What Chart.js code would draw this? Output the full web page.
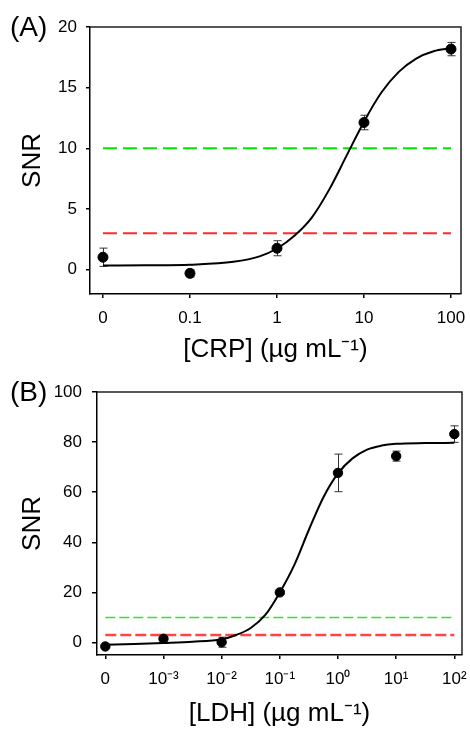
<!DOCTYPE html>
<html><head><meta charset="utf-8">
<script src="https://cdn.jsdelivr.net/npm/chart.js@4/dist/chart.umd.min.js"></script>
<style>
html,body{margin:0;padding:0;background:#fff;width:470px;height:729px;overflow:hidden;}
.wrap{position:absolute;left:0;width:470px;}
.panel{position:absolute;font-family:"Liberation Sans",Arial,sans-serif;font-size:28px;line-height:28px;color:#000;}
</style></head><body>
<div class="wrap" style="top:0;height:365px"><canvas id="cA" width="470" height="365" style="width:470px;height:365px"></canvas></div>
<div class="wrap" style="top:365px;height:364px"><canvas id="cB" width="470" height="364" style="width:470px;height:364px"></canvas></div>
<div class="panel" style="left:10px;top:13px">(A)</div>
<div class="panel" style="left:10px;top:378px">(B)</div>
<script>
// ---------- Panel A: CRP ----------
const crpLabels = ['0', '0.1', '1', '10', '100'];
const crpPos = [0, 1, 2, 3, 4];
const crpSNR = [1.03, -0.3, 1.77, 12.13, 18.18];
const crpErr = [0.75, 0.3, 0.62, 0.6, 0.55];
const crpFitPos = [0, 0.5, 1, 1.5, 1.8, 2, 2.2, 2.4, 2.6, 2.8, 3, 3.2, 3.4, 3.6, 3.8, 4];
const crpFitSNR = [0.35, 0.37, 0.42, 0.65, 1.1, 1.75, 2.8, 4.3, 6.6, 9.4, 12.2, 14.6, 16.3, 17.4, 18.0, 18.25];
const crpYTicks = [0, 5, 10, 15, 20];
const crpThresholds = [10, 3];

// ---------- Panel B: LDH ----------
const ldhLabels = ['0', '10\u207B\u00B3', '10\u207B\u00B2', '10\u207B\u00B9', '10\u2070', '10\u00B9', '10\u00B2'];
const ldhPos = [0, 1, 2, 3, 4, 5, 6];
const ldhSNR = [-1.6, 1.5, 0.1, 20.0, 67.7, 74.4, 83.2];
const ldhErr = [0.5, 0.6, 2.0, 0.6, 7.5, 2.0, 3.3];
const ldhFitPos = [0, 0.5, 1, 1.5, 2, 2.25, 2.5, 2.75, 3, 3.25, 3.5, 3.75, 4, 4.25, 4.5, 4.75, 5, 5.5, 6];
const ldhFitSNR = [-0.9, -0.6, -0.2, 0.3, 1.3, 3.0, 5.8, 11.0, 20.0, 31.0, 45.0, 58.0, 67.5, 73.5, 77.0, 78.6, 79.3, 79.6, 79.7];
const ldhYTicks = [0, 20, 40, 60, 80, 100];
const ldhThresholds = [10, 3];

const FONT = '"Liberation Sans", Arial, sans-serif';
Chart.defaults.font.family = FONT;
Chart.defaults.color = '#000';

const errorBars = {
  id: 'errorBars',
  beforeDatasetsDraw(chart) {
    const {ctx, scales: {x, y}} = chart;
    chart.data.datasets.forEach(ds => {
      if (!ds.errors) return;
      ctx.save();
      ctx.strokeStyle = '#333';
      ctx.lineWidth = 1;
      ds.data.forEach((p, i) => {
        const e = ds.errors[i];
        const px = Math.round(x.getPixelForValue(p.x)) + 0.5;
        const y1 = y.getPixelForValue(p.y + e), y2 = y.getPixelForValue(p.y - e);
        ctx.beginPath();
        ctx.moveTo(px, y1); ctx.lineTo(px, y2);
        ctx.moveTo(px - 4, y1); ctx.lineTo(px + 4, y1);
        ctx.moveTo(px - 4, y2); ctx.lineTo(px + 4, y2);
        ctx.stroke();
      });
      ctx.restore();
    });
  }
};
const boxPlugin = {
  id: 'box',
  afterDatasetsDraw(chart) {
    const {ctx, chartArea: a} = chart;
    ctx.save();
    ctx.strokeStyle = '#222';
    ctx.lineWidth = 1.5;
    ctx.beginPath();
    ctx.moveTo(a.left, a.top); ctx.lineTo(a.right, a.top); ctx.lineTo(a.right, a.bottom);
    ctx.stroke();
    ctx.restore();
  }
};

function makeChart(id, o) {
  const last = o.pos[o.pos.length - 1];
  return new Chart(document.getElementById(id), {
    data: {
      datasets: [
        {type: 'scatter', data: o.pos.map((x, i) => ({x, y: o.y[i]})), backgroundColor: '#000', borderColor: '#000',
         pointRadius: o.r, pointHoverRadius: o.r, errors: o.err, order: 0},
        {type: 'line', data: o.fitPos.map((x, i) => ({x, y: o.fitY[i]})), borderColor: '#000', borderWidth: 2,
         pointRadius: 0, cubicInterpolationMode: 'monotone', fill: false, order: 1},
        {type: 'line', data: [{x: o.pos[0], y: o.thr[0]}, {x: last, y: o.thr[0]}], borderColor: o.green,
         borderWidth: o.gw, borderDash: o.gDash, pointRadius: 0, fill: false, order: 3},
        {type: 'line', data: [{x: o.pos[0], y: o.thr[1]}, {x: last, y: o.thr[1]}], borderColor: o.red,
         borderWidth: o.rw, borderDash: o.rDash, pointRadius: 0, fill: false, order: 2}
      ]
    },
    options: {
      responsive: false, animation: false, devicePixelRatio: 1,
      layout: {padding: {left: 0, right: o.padR, top: 27, bottom: 0}},
      plugins: {legend: {display: false}, tooltip: {enabled: false}},
      scales: {
        x: {
          type: 'linear', min: o.xmin, max: o.xmax, position: 'bottom',
          afterBuildTicks: s => { s.ticks = o.pos.map(v => ({value: v})); },
          afterFit: s => { s.height = o.xh; s.paddingLeft = 0; s.paddingRight = 0; },
          ticks: {callback: v => o.labels[Math.round(v)], font: {size: 17}, padding: 10, maxRotation: 0, autoSkip: false, color: '#000'},
          grid: {drawOnChartArea: false, drawTicks: true, tickLength: 4, color: '#000', lineWidth: 1.5},
          border: {display: true, color: '#000', width: 1.5},
          title: {display: true, text: o.xtitle, font: {size: 26}, padding: {top: 0, bottom: 0}, color: '#000'}
        },
        y: {
          type: 'linear', min: o.ymin, max: o.ymax,
          afterBuildTicks: s => { s.ticks = o.yticks.map(v => ({value: v})); },
          afterFit: s => { s.width = o.yw; s.paddingTop = 0; s.paddingBottom = 0; },
          ticks: {font: {size: 17}, padding: o.ytp, color: '#000'},
          grid: {drawOnChartArea: false, drawTicks: true, tickLength: o.ytl, color: '#000', lineWidth: 1.5},
          border: {display: true, color: '#000', width: 1.5},
          title: {display: true, text: 'SNR', font: {size: 26}, padding: {top: 17, bottom: 0}, color: '#000'}
        }
      }
    },
    plugins: [errorBars, boxPlugin]
  });
}

makeChart('cA', {
  pos: crpPos, y: crpSNR, err: crpErr, fitPos: crpFitPos, fitY: crpFitSNR, thr: crpThresholds,
  labels: crpLabels, yticks: crpYTicks, xtitle: '[CRP] (\u00B5g mL\u207B\u00B9)',
  xmin: -0.149, xmax: 4.115, ymin: -2, ymax: 20,
  padR: 9, xh: 71, yw: 90, ytp: 9, ytl: 4, r: 5,
  green: '#00e600', gw: 2, gDash: [14, 6], red: '#ff2a2a', rw: 2, rDash: [14, 6]
});
makeChart('cB', {
  pos: ldhPos, y: ldhSNR, err: ldhErr, fitPos: ldhFitPos, fitY: ldhFitSNR, thr: ldhThresholds,
  labels: ldhLabels, yticks: ldhYTicks, xtitle: '[LDH] (\u00B5g mL\u207B\u00B9)',
  xmin: -0.143, xmax: 6.132, ymin: -5, ymax: 100,
  padR: 8, xh: 74, yw: 97, ytp: 10, ytl: 5, r: 4.7,
  green: '#2ae82a', gw: 1.5, gDash: [10, 4], red: '#ff4444', rw: 2.5, rDash: [11, 4]
});
</script>
</body></html>
